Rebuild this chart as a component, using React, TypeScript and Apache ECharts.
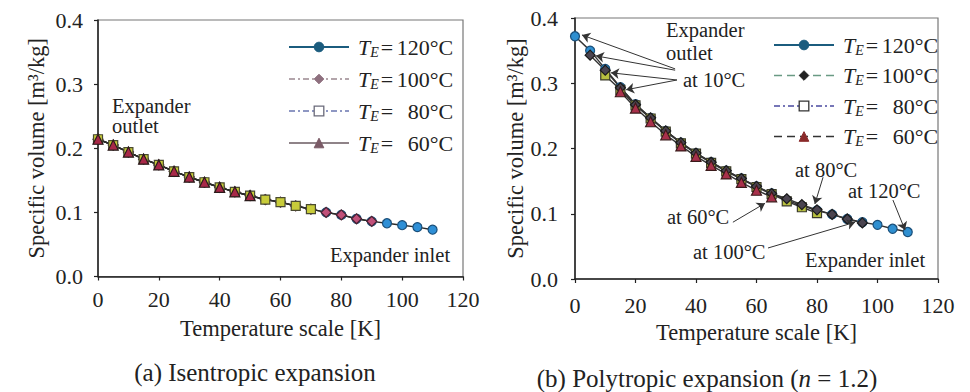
import React, { useEffect, useRef } from 'react';
import * as echarts from 'echarts';

const FONT = '"Liberation Serif", "Times New Roman", serif';
const INK = '#222';

const legendNames = ['T_E = 120°C', 'T_E = 100°C', 'T_E = 80°C', 'T_E = 60°C'];

// (a) Isentropic expansion
const isenTemp120 = [0, 5, 10, 15, 20, 25, 30, 35, 40, 45, 50, 55, 60, 65, 70, 75, 80, 85, 90, 95, 100, 105, 110];
const isenVol120 = [0.214, 0.205, 0.194, 0.183, 0.174, 0.164, 0.155, 0.147, 0.139, 0.132, 0.126, 0.12, 0.116, 0.11, 0.105, 0.1, 0.096, 0.09, 0.086, 0.083, 0.08, 0.077, 0.073];
const isenTemp100 = [0, 5, 10, 15, 20, 25, 30, 35, 40, 45, 50, 55, 60, 65, 70, 75, 80, 85, 90];
const isenVol100 = [0.214, 0.205, 0.194, 0.183, 0.174, 0.164, 0.155, 0.147, 0.139, 0.132, 0.126, 0.12, 0.116, 0.11, 0.105, 0.1, 0.096, 0.09, 0.086];
const isenTemp80 = [0, 5, 10, 15, 20, 25, 30, 35, 40, 45, 50, 55, 60, 65, 70];
const isenVol80 = [0.214, 0.205, 0.194, 0.183, 0.174, 0.164, 0.155, 0.147, 0.139, 0.132, 0.126, 0.12, 0.116, 0.11, 0.105];
const isenTemp60 = [0, 5, 10, 15, 20, 25, 30, 35, 40, 45, 50];
const isenVol60 = [0.214, 0.205, 0.194, 0.183, 0.174, 0.164, 0.155, 0.147, 0.139, 0.132, 0.126];

// (b) Polytropic expansion (n = 1.2)
const polyTemp120 = [0, 5, 10, 15, 20, 25, 30, 35, 40, 45, 50, 55, 60, 65, 70, 75, 80, 85, 90, 95, 100, 105, 110];
const polyVol120 = [0.372, 0.35, 0.322, 0.294, 0.268, 0.247, 0.227, 0.209, 0.193, 0.179, 0.166, 0.154, 0.142, 0.131, 0.121, 0.112, 0.105, 0.099, 0.092, 0.087, 0.083, 0.077, 0.072];
const polyTemp100 = [5, 10, 15, 20, 25, 30, 35, 40, 45, 50, 55, 60, 65, 70, 75, 80, 85, 90, 95];
const polyVol100 = [0.343, 0.32, 0.293, 0.267, 0.247, 0.227, 0.209, 0.193, 0.179, 0.166, 0.154, 0.142, 0.131, 0.123, 0.114, 0.106, 0.099, 0.092, 0.086];
const polyTemp80 = [10, 15, 20, 25, 30, 35, 40, 45, 50, 55, 60, 65, 70, 75, 80];
const polyVol80 = [0.312, 0.29, 0.266, 0.246, 0.226, 0.208, 0.192, 0.178, 0.165, 0.153, 0.141, 0.13, 0.119, 0.11, 0.101];
const polyTemp60 = [15, 20, 25, 30, 35, 40, 45, 50, 55, 60, 65];
const polyVol60 = [0.287, 0.262, 0.241, 0.221, 0.204, 0.188, 0.174, 0.161, 0.148, 0.136, 0.126];

// annotation arrows (b), in data coordinates: [fromT, fromV, toT, toV]
const polyArrows = [
  [33.1, 0.322, 2.3, 0.374],
  [33.1, 0.32, 6.9, 0.342],
  [33.7, 0.305, 11.9, 0.316],
  [33.7, 0.305, 16.9, 0.29],
  [82, 0.156, 79.3, 0.115],
  [105.1, 0.121, 109.1, 0.075],
  [52.2, 0.087, 62.8, 0.116],
  [63.8, 0.0475, 92.6, 0.087],
];

const pairs = (xs: number[], ys: number[]) => xs.map((x, i) => [x, ys[i]]);

const legendFormatter = (name: string) => {
  const v = name.replace('T_E = ', '');
  return `{t|T}{s|E}{e|=}{v|${v}}`;
};
const legendRich = {
  t: { fontFamily: FONT, fontStyle: 'italic', fontSize: 22, color: INK, padding: [0, 0, 0, 4], lineHeight: 24, verticalAlign: 'middle' },
  s: { fontFamily: FONT, fontStyle: 'italic', fontSize: 14, color: INK, lineHeight: 24, verticalAlign: 'bottom', padding: [0, 2, 0, 0] },
  e: { fontFamily: FONT, fontSize: 22, color: INK, lineHeight: 24, verticalAlign: 'middle' },
  v: { fontFamily: FONT, fontSize: 22, color: INK, lineHeight: 24, width: 60, align: 'right', verticalAlign: 'middle' },
};

const axisCommon = {
  axisLine: { show: true, onZero: false, lineStyle: { color: INK, width: 1.5 } },
  axisTick: { show: true, length: 4, inside: false, lineStyle: { color: INK, width: 1.2 } },
  splitLine: { show: false },
};

function xAxisFor(gridIndex: number, margin: number) {
  return {
    type: 'value', gridIndex, min: 0, max: 120, interval: 20,
    ...axisCommon,
    axisLabel: { fontFamily: FONT, fontSize: 22, color: INK, margin },
    name: 'Temperature scale [K]', nameLocation: 'middle', nameGap: 40,
    nameTextStyle: { fontFamily: FONT, fontSize: 22.5, color: INK },
  };
}
function yAxisFor(gridIndex: number, margin: number, nameGap: number) {
  return {
    type: 'value', gridIndex, min: 0, max: 0.4, interval: 0.1,
    ...axisCommon,
    axisLabel: { fontFamily: FONT, fontSize: 22, color: INK, margin, formatter: (v: number) => v.toFixed(1) },
    name: 'Specific volume [m³/kg]', nameLocation: 'middle', nameGap,
    nameTextStyle: { fontFamily: FONT, fontSize: 22.5, color: INK },
  };
}

function lineSeries(name: string, idx: number, data: number[][], symbol: string, fill: string, border: string, lineColor: string, extra: any = {}) {
  return {
    type: 'line', name, xAxisIndex: idx, yAxisIndex: idx, data,
    symbol, symbolSize: symbol === 'triangle' ? 10 : symbol === 'diamond' ? 10 : 9,
    showSymbol: true,
    lineStyle: { color: lineColor, width: 1.4 },
    itemStyle: { color: fill, borderColor: border, borderWidth: 1.2 },
    emphasis: { disabled: true },
    z: 3,
    ...extra,
  };
}

const txt = (x: number, y: number, text: string, size = 20.5, extra: any = {}) => ({
  type: 'text', x, y, silent: true,
  style: { text, fontFamily: FONT, fontSize: size, fill: INK, verticalAlign: 'middle', align: 'left', ...extra },
});

export default function App() {
  const ref = useRef<HTMLDivElement>(null);
  useEffect(() => {
    if (!ref.current) return;
    const chart = echarts.init(ref.current, undefined, { renderer: 'svg' });
    const option: any = {
      animation: false,
      backgroundColor: '#fff',
      grid: [
        { left: 98, top: 20, width: 365, height: 256.5, show: true, borderColor: '#777', borderWidth: 1.2, backgroundColor: 'transparent' },
        { left: 575, top: 18, width: 363, height: 261, show: true, borderColor: '#777', borderWidth: 1.2, backgroundColor: 'transparent' },
      ],
      xAxis: [xAxisFor(0, 12), xAxisFor(1, 15)],
      yAxis: [yAxisFor(0, 15, 50), yAxisFor(1, 17, 45)],
      legend: [
        {
          orient: 'vertical', left: 283, top: 31, itemWidth: 60, itemHeight: 12, itemGap: 9,
          selectedMode: false, formatter: legendFormatter, textStyle: { rich: legendRich },
          data: [
            { name: legendNames[0], itemStyle: { color: '#1b5c7e', borderColor: '#1b5c7e', borderWidth: 1 }, lineStyle: { color: '#1b5c7e', width: 2, type: 'solid' } },
            { name: legendNames[1], itemStyle: { color: '#8e6f7e', borderColor: '#8e6f7e', borderWidth: 1 }, lineStyle: { color: '#9a8890', width: 1.5, type: [6, 3, 2, 3] } },
            { name: legendNames[2], itemStyle: { color: '#fff', borderColor: '#6a6a7a', borderWidth: 1.3 }, lineStyle: { color: '#6a76b0', width: 1.5, type: [6, 3, 2, 3] } },
            { name: legendNames[3], itemStyle: { color: '#7a5a66', borderColor: '#7a5a66', borderWidth: 1 }, lineStyle: { color: '#6a5a60', width: 1.5, type: 'solid' } },
          ],
        },
        {
          orient: 'vertical', left: 768, top: 29, itemWidth: 60, itemHeight: 12, itemGap: 7.5,
          selectedMode: false, formatter: legendFormatter, textStyle: { rich: legendRich },
          data: [
            { name: legendNames[0], itemStyle: { color: '#1b5c7e', borderColor: '#1b5c7e', borderWidth: 1 }, lineStyle: { color: '#1b5c7e', width: 2, type: 'solid' } },
            { name: legendNames[1], itemStyle: { color: '#222', borderColor: '#222', borderWidth: 1 }, lineStyle: { color: '#6a9a84', width: 1.5, type: [8, 5] } },
            { name: legendNames[2], itemStyle: { color: '#fff', borderColor: '#333', borderWidth: 1.3 }, lineStyle: { color: '#4a4aa0', width: 1.5, type: [6, 3, 2, 3] } },
            { name: legendNames[3], itemStyle: { color: '#8a2a2a', borderColor: '#8a2a2a', borderWidth: 1 }, lineStyle: { color: '#333', width: 1.5, type: [8, 5] } },
          ],
        },
      ],
      series: [
        lineSeries(legendNames[0], 0, pairs(isenTemp120, isenVol120), 'circle', '#2e8fd6', '#1a4f7a', '#2a2a2a'),
        lineSeries(legendNames[1], 0, pairs(isenTemp100, isenVol100), 'diamond', '#c0507a', '#4a2030', '#2a2a2a'),
        lineSeries(legendNames[2], 0, pairs(isenTemp80, isenVol80), 'rect', '#c8cc3a', '#4a4a30', '#2a2a2a'),
        lineSeries(legendNames[3], 0, pairs(isenTemp60, isenVol60), 'triangle', '#a82848', '#2a1a1a', '#2a2a2a'),
        lineSeries(legendNames[0], 1, pairs(polyTemp120, polyVol120), 'circle', '#2f8fd0', '#1a4f7a', '#333', {
          markLine: {
            silent: true, symbol: ['none', 'arrow'], symbolSize: 8,
            lineStyle: { color: '#333', width: 1, type: 'solid' }, label: { show: false },
            emphasis: { disabled: true },
            data: polyArrows.map(a => [{ coord: [a[0], a[1]] }, { coord: [a[2], a[3]] }]),
          },
        }),
        lineSeries(legendNames[2], 1, pairs(polyTemp80, polyVol80), 'rect', '#b8c040', '#3a3a2a', '#333'),
        lineSeries(legendNames[1], 1, pairs(polyTemp100, polyVol100), 'diamond', '#4a4450', '#1a1a1a', '#333'),
        lineSeries(legendNames[3], 1, pairs(polyTemp60, polyVol60), 'triangle', '#a8304a', '#3a1a1a', '#333'),
      ],
      graphic: [
        txt(112, 106, 'Expander'),
        txt(112, 126, 'outlet'),
        txt(330, 255, 'Expander inlet'),
        txt(255, 372, '(a) Isentropic expansion', 25, { align: 'center' }),
        txt(666, 30, 'Expander'),
        txt(666, 53, 'outlet'),
        txt(683, 80, 'at 10°C'),
        txt(795, 170, 'at 80°C'),
        txt(848, 191, 'at 120°C'),
        txt(667, 217, 'at 60°C'),
        txt(693, 252, 'at 100°C'),
        txt(805, 260, 'Expander inlet'),
        {
          type: 'text', x: 707, y: 378, silent: true,
          style: {
            text: '{a|(b) Polytropic expansion (}{i|n}{a| = 1.2)}',
            align: 'center', verticalAlign: 'middle',
            rich: {
              a: { fontFamily: FONT, fontSize: 25, fill: INK, color: INK },
              i: { fontFamily: FONT, fontSize: 25, fontStyle: 'italic', fill: INK, color: INK },
            },
          },
        },
      ],
    };
    chart.setOption(option);
    return () => chart.dispose();
  }, []);
  return (
    <div
      ref={ref}
      style={{ position: 'absolute', left: 0, top: 0, width: 970, height: 392, background: '#fff' }}
    />
  );
}
